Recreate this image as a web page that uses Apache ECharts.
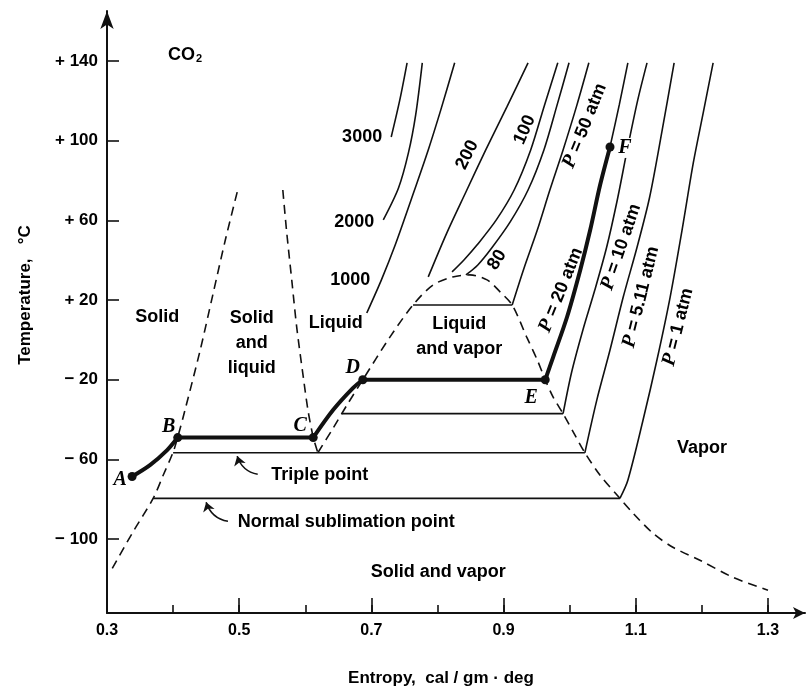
<!DOCTYPE html>
<html>
<head>
<meta charset="utf-8">
<script src="https://cdn.jsdelivr.net/npm/echarts@6/dist/echarts.min.js"></script>
<style>html,body{margin:0;padding:0;background:#fff}#chart{width:809px;height:691px}</style>
</head>
<body>
<div id="chart"></div>
<script>
// CO2 temperature-entropy diagram. values are [entropy, temperature]
var xMajor = [0.3, 0.5, 0.7, 0.9, 1.1, 1.3];
var xMinor = [0.3, 0.4, 0.5, 0.6, 0.7, 0.8, 0.9, 1.0, 1.1, 1.2, 1.3];
var yTicks = [-100, -60, -20, 20, 60, 100, 140];

// isobars (atm)
var p3000 = [[0.754, 139], [0.743, 120.4], [0.730, 101.8]];
var p2000 = [[0.777, 139], [0.767, 112.9], [0.756, 93.8], [0.741, 76.2], [0.718, 60.2]];
var p1000 = [[0.826, 139], [0.805, 115.4], [0.786, 95.3], [0.760, 70.2], [0.736, 47.6], [0.715, 30.0], [0.693, 13.5]];
var p200 = [[0.937, 139], [0.905, 116.9], [0.873, 95.3], [0.843, 74.2], [0.814, 53.6], [0.786, 31.6]];
var p100 = [[0.982, 139], [0.962, 117.9], [0.941, 95.3], [0.916, 75.2], [0.889, 60.2], [0.861, 48.1], [0.840, 40.1], [0.822, 34.1]];
var p80 = [[0.999, 139], [0.981, 117.9], [0.961, 95.3], [0.937, 75.2], [0.910, 59.2], [0.882, 46.1], [0.861, 37.6], [0.843, 32.6]];
var p50 = [[1.029, 139], [1.011, 117.9], [0.990, 95.3], [0.970, 75.2], [0.951, 55.1], [0.931, 36.1], [0.913, 17.5]];
var p20 = [[1.088, 139], [1.075, 117.9], [1.061, 96.8]];
var p10 = [[1.117, 139], [1.103, 120.4], [1.087, 95.3], [1.072, 70.2], [1.056, 46.6], [1.038, 25.0], [1.020, 5.0], [1.003, -16.1], [0.990, -37]];
var p511 = [[1.158, 139], [1.140, 105.4], [1.121, 71.7], [1.102, 46.6], [1.081, 21.5], [1.061, -5.1], [1.041, -30.2], [1.023, -56.6]];
var p1 = [[1.217, 139], [1.202, 113.9], [1.187, 88.8], [1.170, 55.1], [1.152, 21.5], [1.132, -10.1], [1.111, -40.2], [1.088, -70.4], [1.076, -79.5]];

// horizontal tie lines
var tieCrit = [[0.763, 17.5], [0.913, 17.5]];
var tie10 = [[0.655, -37], [0.990, -37]];
var tieTriple = [[0.400, -56.6], [1.023, -56.6]];
var tieSubl = [[0.370, -79.5], [1.076, -79.5]];

// heavy process path A-B-C-D-E-F
var pathAB = [[0.338, -68.5], [0.365, -62.8], [0.391, -55.3], [0.407, -49]];
var pathBC = [[0.407, -49], [0.612, -49]];
var pathCD = [[0.612, -49], [0.642, -35.2], [0.672, -24.2], [0.687, -20]];
var pathDE = [[0.687, -20], [0.963, -20]];
var pathEF = [[0.963, -20], [0.975, -8.6], [0.996, 11.5], [1.016, 35.1], [1.031, 55.1], [1.046, 77.7], [1.061, 96.8]];

// dashed phase boundaries
var solidLine = [[0.308, -114.6], [0.339, -96.5], [0.370, -79.4], [0.385, -67.9], [0.400, -56.3], [0.407, -48.8], [0.418, -35.2], [0.441, -5.1], [0.460, 22.5], [0.479, 50.1], [0.497, 74.2]];
var meltLine = [[0.566, 75.2], [0.572, 53.6], [0.580, 28.5], [0.587, 6.4], [0.597, -18.7], [0.604, -35.2], [0.612, -48.8], [0.619, -56.6]];
var satLine = [[0.619, -56.6], [0.642, -44.3], [0.663, -32.7], [0.687, -20], [0.728, 1.4], [0.763, 17.5], [0.793, 27.5], [0.823, 31.6], [0.849, 32.6], [0.875, 30.1], [0.895, 24.0], [0.913, 17.5], [0.935, 1.4], [0.951, -10.1], [0.963, -20], [0.975, -28.7], [0.990, -37], [1.008, -47.8], [1.023, -56.6], [1.046, -67.9], [1.076, -79.5], [1.096, -87.0], [1.126, -97.0], [1.156, -104.0], [1.197, -110.5], [1.247, -119.1], [1.300, -125.6]];

var statePoints = [['A', 0.338, -68.5], ['B', 0.407, -49], ['C', 0.612, -49], ['D', 0.687, -20], ['E', 0.963, -20], ['F', 1.061, 96.8]];

var regionLabels = [
    ['Solid', 0.376, 11.5],
    ['Solid\nand\nliquid', 0.519, -1.6],
    ['Liquid', 0.646, 8.5],
    ['Liquid\nand vapor', 0.833, 1.9],
    ['Vapor', 1.200, -54.3],
    ['Solid and vapor', 0.801, -116.6],
    ['Triple point', 0.622, -67.9],
    ['Normal sublimation point', 0.662, -91.5]
];
var isobarLabels = [
    ['3000', 0.686, 101.8, 0],
    ['2000', 0.674, 59.2, 0],
    ['1000', 0.668, 30.0, 0],
    ['200', 0.845, 92.8, 64],
    ['100', 0.932, 105.4, 66],
    ['80', 0.890, 40.1, 58],
    ['{p|P} = 50 atm', 1.023, 107.4, 68],
    ['{p|P} = 20 atm', 0.987, 25.0, 68],
    ['{p|P} = 10 atm', 1.078, 46.6, 71],
    ['{p|P} = 5.11 atm', 1.108, 21.5, 76],
    ['{p|P} = 1 atm', 1.164, 6.4, 76]
];
var arrows = [
    [[0.528, -67.4], [0.497, -58.3]],
    [[0.483, -91.0], [0.450, -81.4]]
];

var ink = '#111'
var sans = 'Liberation Sans'
var letterOffset = { A: [-12, 3], B: [-9, -11], C: [-13, -12], D: [-10, -12], E: [-14, 18], F: [15, 1] }
var italicP = { fontFamily: 'Liberation Serif', fontStyle: 'italic', fontWeight: 'bold', fontSize: 20, color: '#000' }

function thin(data, smooth) {
    return { type: 'line', data: data, showSymbol: false, smooth: smooth ? 0.3 : false,
        lineStyle: { color: ink, width: 1.6 }, silent: true, z: 3 }
}
function dashed(data) {
    return { type: 'line', data: data, showSymbol: false, smooth: 0.3,
        lineStyle: { color: ink, width: 1.6, type: [9, 6] }, silent: true, z: 3 }
}
function thick(data, smooth) {
    return { type: 'line', data: data, showSymbol: false, smooth: smooth ? 0.3 : false,
        lineStyle: { color: ink, width: 4 }, silent: true, z: 4 }
}

var mychart = echarts.init(document.getElementById('chart'))

var series = [
    thin(p3000, true), thin(p2000, true), thin(p1000, true), thin(p200, true),
    thin(p100, true), thin(p80, true), thin(p50, true), thin(p20, true),
    thin(p10, true), thin(p511, true), thin(p1, true),
    thin(tieCrit), thin(tie10), thin(tieTriple), thin(tieSubl),
    dashed(solidLine), dashed(meltLine), dashed(satLine),
    thick(pathAB, true), thick(pathBC), thick(pathCD, true), thick(pathDE), thick(pathEF, true),
    {
        type: 'lines', coordinateSystem: 'cartesian2d', silent: true, z: 3,
        symbol: ['none', 'arrow'], symbolSize: 9,
        lineStyle: { color: ink, width: 1.6, curveness: 0.3, opacity: 1 },
        data: arrows.map(function(a) { return { coords: a } })
    },
    {
        type: 'scatter', silent: true, z: 6, symbolSize: 9,
        itemStyle: { color: ink, opacity: 1 },
        data: statePoints.map(function(p) {
            return { value: [p[1], p[2]], name: p[0],
                label: { show: true, position: 'inside', offset: letterOffset[p[0]], formatter: p[0],
                    fontFamily: 'Liberation Serif', fontStyle: 'italic', fontWeight: 'bold', fontSize: 20, color: '#000',
                    backgroundColor: p[0] === 'F' ? '#fff' : 'transparent' } }
        })
    },
    {
        type: 'scatter', silent: true, z: 5, symbolSize: 1,
        itemStyle: { color: 'rgba(0,0,0,0)', opacity: 1 },
        data: regionLabels.map(function(p) {
            return { value: [p[1], p[2]],
                label: { show: true, position: 'inside', formatter: p[0], fontFamily: sans, fontWeight: 'bold',
                    fontSize: 18, lineHeight: 25, color: '#000', align: 'center' } }
        }).concat(isobarLabels.map(function(p) {
            return { value: [p[1], p[2]],
                label: { show: true, position: 'inside', formatter: p[0], fontFamily: sans, fontWeight: 'bold',
                    fontSize: 18, rotate: p[3], color: '#000', rich: { p: italicP } } }
        })).concat([{ value: [0.418, 143],
            label: { show: true, position: 'inside', formatter: '{a|CO}{b|2}', color: '#000',
                rich: { a: { fontFamily: sans, fontSize: 18, fontWeight: 'bold', color: '#000' },
                        b: { fontFamily: sans, fontSize: 11, fontWeight: 'bold', color: '#000', padding: [8, 0, 0, 1] } } } }])
    }
]

mychart.setOption({
    animation: false,
    textStyle: { fontFamily: sans },
    grid: { left: 107, right: 4, top: 11, bottom: 78 },
    graphic: [
        { type: 'text', x: 25, y: 295, rotation: Math.PI / 2,
          style: { text: 'Temperature,   °C', font: 'bold 17px "Liberation Sans"', fill: '#000', align: 'center', verticalAlign: 'middle' } },
        { type: 'text', x: 441, y: 678,
          style: { text: 'Entropy,  cal / gm · deg', font: 'bold 17px "Liberation Sans"', fill: '#000', align: 'center', verticalAlign: 'middle' } }
    ],
    xAxis: [{
        type: 'value', min: 0.3, max: 1.356,
        axisLine: { onZero: false, lineStyle: { color: ink, width: 2 }, symbol: ['none', 'arrow'], symbolSize: [9, 12] },
        axisTick: { inside: true, length: 8, customValues: xMinor, lineStyle: { color: ink, width: 1.6 } },
        axisLabel: { show: false },
        splitLine: { show: false }
    }, {
        type: 'value', min: 0.3, max: 1.356, position: 'bottom',
        axisLine: { show: false, onZero: false },
        axisTick: { inside: true, length: 15, customValues: xMajor, lineStyle: { color: ink, width: 1.6 } },
        axisLabel: { customValues: xMajor, margin: 10, color: '#000', fontSize: 16, fontWeight: 'bold',
            formatter: function(v) { return v.toFixed(1) } },
        splitLine: { show: false }
    }],
    yAxis: {
        type: 'value', min: -137, max: 165,
        axisLine: { onZero: false, lineStyle: { color: ink, width: 2 }, symbol: ['none', 'arrow'], symbolSize: [10, 18] },
        axisTick: { inside: true, length: 12, customValues: yTicks, lineStyle: { color: ink, width: 1.6 } },
        axisLabel: { customValues: yTicks, margin: 9, color: '#000', fontSize: 17, fontWeight: 'bold',
            formatter: function(v) { return v > 0 ? '+ ' + v : '\u2212 ' + Math.abs(v) } },
        splitLine: { show: false }
    },
    series: series
})
</script>
</body>
</html>
